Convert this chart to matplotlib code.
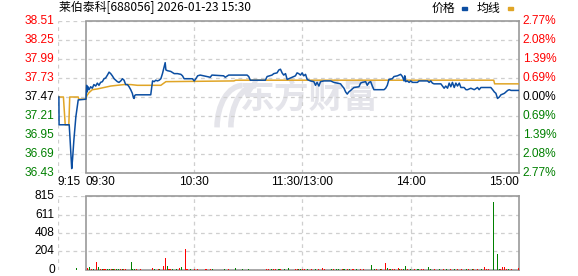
import matplotlib
matplotlib.use("Agg")
import matplotlib.pyplot as plt
from matplotlib.patches import Arc

# ---------------- data ----------------
title = "莱伯泰科[688056] 2026-01-23 15:30"
prev_close = 37.47

# minutes from 09:30 (lunch break removed); negative = call auction 9:15-9:30
price_t = [-15, -14.9, -9.3, -8.9, -8.3, -7.9, -7.4, -6.7, -5.6, -4.3, 0,
           0.4, 0.7, 1.1, 1.7, 2.6, 3.5, 4.4, 5.4, 6.3, 7.2, 8.1, 9.1, 10, 10.9,
           11.9, 12.8, 13.7, 14.6, 15.6, 16.5, 17.4, 18.3, 19.3, 20.2, 21.1, 22,
           23, 23.9, 24.8, 25.7, 26.3, 26.7, 27, 27.6, 35.9, 36.5, 36.9, 37.8,
           38.7, 39.6, 40.6, 41.5, 42.4, 43.3, 43.9, 44.3, 45.2, 47, 48.9, 50.7,
           52.6, 53.5, 54.4, 58.1, 59, 60, 60.9, 61.9, 63.3, 68.9, 69.8, 76.3,
           77.2, 79.1, 89.3, 90.2, 91.1, 99.4, 100.4, 103.1, 104.1, 105.9, 106.9,
           107.8, 108.7, 109.6, 110.6, 111.5, 112.4, 116.1, 117, 117.9, 118.9,
           119.8, 120.7, 121.7, 122.6, 124.4, 126.3, 127.2, 128.1, 129.1, 130,
           131.9, 135.6, 137.4, 139.3, 141.1, 142, 143, 143.9, 144.8, 145.7,
           146.7, 148.5, 151.3, 152.2, 153.1, 155, 155.9, 156.9, 157.8, 158.7,
           159.6, 165.2, 166.1, 167, 167.9, 169.8, 170.7, 172.6, 173.5, 174.4,
           175.4, 176.3, 176.7, 177.2, 178.1, 179.1, 180, 181, 183.7, 184.6,
           189.3, 190.2, 191.1, 192, 192.9, 196.7, 197.6, 198.5, 199.4, 200.4,
           201.3, 202.2, 203.1, 204.1, 205, 205.9, 206.9, 207.8, 209.6, 210.6,
           211.5, 213.3, 215.2, 217, 217.9, 218.9, 224.4, 225.4, 226.3, 227.2,
           228.1, 229.1, 230, 231.9, 232.8, 233.7, 234.6, 235.6, 240]
price_v = [37.47, 37.09, 37.09, 36.93, 36.65, 36.49, 36.63, 36.88, 37.20, 37.43, 37.44,
           37.63, 37.54, 37.61, 37.57, 37.61, 37.59, 37.64, 37.62, 37.66, 37.63, 37.67, 37.68, 37.72, 37.73,
           37.77, 37.81, 37.79, 37.76, 37.72, 37.70, 37.68, 37.67, 37.69, 37.72, 37.70, 37.64,
           37.64, 37.61, 37.57, 37.52, 37.46, 37.45, 37.49, 37.50, 37.50, 37.61, 37.69, 37.68,
           37.70, 37.69, 37.70, 37.72, 37.79, 37.88, 37.94, 37.84, 37.83, 37.82, 37.79, 37.79,
           37.78, 37.76, 37.72, 37.72, 37.72, 37.69, 37.72, 37.76, 37.77, 37.74, 37.77, 37.76,
           37.74, 37.77, 37.77, 37.75, 37.70, 37.70, 37.75, 37.77, 37.79, 37.80, 37.84,
           37.85, 37.80, 37.77, 37.79, 37.71, 37.72, 37.76, 37.80, 37.79, 37.77,
           37.80, 37.76, 37.78, 37.71, 37.69, 37.68, 37.63, 37.67, 37.62, 37.68,
           37.69, 37.69, 37.67, 37.66, 37.65, 37.62, 37.59, 37.54, 37.51, 37.54,
           37.56, 37.60, 37.61, 37.66, 37.67, 37.68, 37.63, 37.67, 37.68, 37.62,
           37.57, 37.57, 37.59, 37.63, 37.71, 37.72, 37.75, 37.76, 37.77, 37.78,
           37.75, 37.69, 37.76, 37.68, 37.69, 37.67, 37.69, 37.67, 37.67, 37.69,
           37.69, 37.67, 37.69, 37.66, 37.65, 37.65, 37.62, 37.59, 37.62, 37.59,
           37.66, 37.61, 37.67, 37.60, 37.66, 37.62, 37.66, 37.60, 37.60, 37.57,
           37.57, 37.59, 37.57, 37.60, 37.57, 37.60, 37.60, 37.57, 37.54, 37.52,
           37.45, 37.47, 37.50, 37.52, 37.54, 37.56, 37.57, 37.56, 37.56]

avg_t = [-15, -12.5, -11.5, -9.5, -9, -4.3, -4, 0, 0.5, 1.7, 3.5, 6.3, 10, 13.7,
         17.4, 21.1, 24.8, 28.5, 41.5, 44.3, 82, 83, 226, 226.5, 240]
avg_v = [37.47, 37.47, 37.09, 37.09, 37.47, 37.47, 37.44, 37.44, 37.49, 37.53, 37.57,
         37.58, 37.60, 37.62, 37.63, 37.64, 37.64, 37.63, 37.63, 37.68, 37.69, 37.70,
         37.70, 37.65, 37.65]

# larger volume bars
vol_t = [-5, 1, 2, 6, 7, 25, 37, 43, 44, 45, 52, 53, 55, 69, 77, 83, 87, 112,
         131, 158, 166, 167, 173, 177, 190, 221, 226, 228, 231, 232, 240]
vol_v = [25, 25, 33, 88, 33, 88, 22, 44, 130, 44, 22, 33, 231, 15, 15, 22, 15, 22,
         22, 55, 77, 25, 22, 44, 33, 33, 749, 173, 33, 33, 25]
vol_up = [0, 1, 0, 1, 0, 0, 1, 1, 1, 0, 1, 0, 1, 1, 0, 0, 0, 0,
          1, 0, 1, 0, 1, 0, 0, 1, 0, 0, 1, 1, 1]

# small volume bars (about 1 px tall)
vsm_t = [3, 4, 8, 9, 10, 11, 12, 13, 14, 15, 16, 17, 18, 19, 20, 21, 22, 26, 27,
         28, 30, 38, 40, 41, 46, 47, 48, 50, 56, 58, 60, 62, 66, 67, 70, 79, 90,
         100, 101, 103, 104, 105, 107, 108, 110, 116, 117, 118, 119, 120, 121,
         123, 125, 127, 129, 132, 136, 137, 139, 140, 142, 143, 145, 146, 148,
         150, 152, 154, 160, 161, 163, 164, 168, 169, 170, 171, 174, 175, 176,
         178, 180, 182, 184, 186, 187, 191, 193, 196, 198, 200, 202, 204, 206,
         208, 211, 212, 214, 215, 217, 219, 222, 223, 229, 230, 233, 234, 236]
vsm_v = [12, 10, 11, 10, 12, 10, 11, 10, 12, 11, 10, 12, 10, 11, 10, 12, 10, 11, 10,
         12, 10, 11, 10, 12, 11, 10, 12, 11, 10, 12, 11, 10, 12, 11, 10, 11, 12,
         12, 10, 11, 12, 10, 11, 12, 10, 12, 10, 11, 12, 10, 11,
         12, 10, 11, 12, 10, 11, 10, 12, 11, 10, 12, 11, 10, 12,
         11, 10, 12, 11, 10, 12, 11, 10, 12, 11, 10, 12, 11, 10,
         12, 11, 10, 12, 11, 10, 12, 11, 10, 12, 11, 10, 12, 11,
         10, 12, 11, 10, 12, 11, 10, 12, 11, 10, 12, 11, 10, 12]
vsm_up = [1, 0, 1, 0, 1, 1, 0, 0, 1, 0, 1, 0, 0, 1, 0, 1, 1, 0, 0,
          1, 1, 0, 1, 0, 1, 1, 0, 0, 1, 0, 1, 1, 1, 1, 0, 1, 0,
          1, 1, 0, 1, 1, 0, 1, 0, 1, 1, 0, 0, 1, 1,
          0, 1, 0, 1, 1, 0, 1, 0, 0, 1, 0, 1, 0, 1,
          0, 1, 1, 0, 1, 0, 1, 1, 0, 1, 1, 0, 1, 0,
          1, 0, 1, 0, 1, 1, 0, 1, 0, 1, 0, 1, 0, 1,
          1, 0, 1, 0, 1, 1, 0, 1, 1, 0, 1, 1, 0, 1]

price_ticks = [38.51, 38.25, 37.99, 37.73, 37.47, 37.21, 36.95, 36.69, 36.43]
pct_labels = ["2.77%", "2.08%", "1.39%", "0.69%", "0.00%", "0.69%", "1.39%", "2.08%", "2.77%"]
vol_ticks = [0, 204, 408, 611, 815]
time_ticks = [-15.5, 0, 60, 120, 180, 240]
time_labels = ["9:15", "09:30", "10:30", "11:30/13:00", "14:00", "15:00"]

# ---------------- style ----------------
plt.rcParams['font.family'] = ['Liberation Sans', 'Noto Sans CJK SC', 'DejaVu Sans']
BLUE = "#0b4ea2"
ORANGE = "#e0a526"
RED = "#ff0000"
GREEN = "#008000"
FRAME = "#999999"
GRID = "#cfcfcf"
WM = "#e4e4ea"
FS = 8.6

W, H = 578, 276
fig = plt.figure(figsize=(W / 100, H / 100), dpi=100)

def ax_rect(x0, x1, ytop, ybot):
    return [x0 / W, 1 - ybot / H, (x1 - x0) / W, (ybot - ytop) / H]

ax = fig.add_axes(ax_rect(58, 519, 21, 173))
axv = fig.add_axes(ax_rect(58, 519, 196, 270))

XMIN, XMAX = -15.5, 240

def frame(a):
    a.set_xlim(XMIN, XMAX)
    a.spines["left"].set_visible(False)
    for s in ("top", "bottom", "right"):
        a.spines[s].set_color(FRAME)
        a.spines[s].set_linewidth(1.2)
    a.spines["top"].set_bounds(0, XMAX)
    a.spines["bottom"].set_bounds(0, XMAX)
    a.axvline(0, color=FRAME, lw=1.2, zorder=3)
    for xv in (XMIN, 60, 120, 180):
        a.axvline(xv, color=GRID, lw=0.9, ls=(0, (3, 3)), zorder=1)
    a.tick_params(length=0)
    a.set_xticks([])

# ---- main price chart ----
frame(ax)
ylo, yhi = price_ticks[-1], price_ticks[0]
ax.set_ylim(ylo, yhi)
for yv in price_ticks:
    ax.axhline(yv, color=GRID, lw=0.9, ls=(0, (3, 3)), zorder=1)
ax.set_yticks([])

# watermark (logo strokes + text)
for cx, r in ((0.40, 0.11), (0.43, 0.11)):
    ax.add_patch(Arc((cx, 0.30), r * 1.0, 0.55, angle=0, theta1=90, theta2=180,
                     transform=ax.transAxes, color=WM, lw=4, zorder=0.5))
ax.text(0.545, 0.5, "东方财富", transform=ax.transAxes, fontsize=25,
        fontweight="bold", color=WM, ha="center", va="center",
        family=["Noto Sans CJK SC"], zorder=0.5)

ax.plot(avg_t, avg_v, color=ORANGE, lw=1.1, zorder=4)
ax.plot(price_t, price_v, color=BLUE, lw=1.1, zorder=5)

for yv, lab in zip(price_ticks, pct_labels):
    if yv > prev_close + 1e-6:
        c = RED
    elif yv < prev_close - 1e-6:
        c = GREEN
    else:
        c = "black"
    ax.text(-0.007, yv, f"{yv:.2f}", transform=ax.get_yaxis_transform(),
            ha="right", va="center", fontsize=FS, color=c)
    ax.text(1.008, yv, lab, transform=ax.get_yaxis_transform(),
            ha="left", va="center", fontsize=FS, color=c)

aligns = ["left", "left", "center", "center", "center", "right"]
for tv, lab, al in zip(time_ticks, time_labels, aligns):
    ax.text(tv, -0.06, lab, transform=ax.get_xaxis_transform(),
            ha=al, va="center", fontsize=FS, color="black")

# title and legend
fig.text(59 / W, 1 - 8 / H, title, ha="left", va="center", fontsize=FS,
         family=["Noto Sans CJK SC"], color="black")
fig.text(432 / W, 1 - 8 / H, "价格", ha="left", va="center", fontsize=FS,
         family=["Noto Sans CJK SC"], color="black")
fig.patches.append(plt.Rectangle((462 / W, 1 - 10 / H), 5 / W, 3 / H,
                                 transform=fig.transFigure, color=BLUE))
fig.text(477 / W, 1 - 8 / H, "均线", ha="left", va="center", fontsize=FS,
         family=["Noto Sans CJK SC"], color="black")
fig.patches.append(plt.Rectangle((508 / W, 1 - 10 / H), 5 / W, 3 / H,
                                 transform=fig.transFigure, color=ORANGE))

# ---- volume chart ----
frame(axv)
axv.set_ylim(0, vol_ticks[-1])
for yv in vol_ticks[1:]:
    axv.axhline(yv, color=GRID, lw=0.9, ls=(0, (3, 3)), zorder=1)
axv.set_yticks([])
axv.bar(vsm_t, vsm_v, width=0.6, color=[RED if u else GREEN for u in vsm_up],
        zorder=4, linewidth=0)
axv.bar(vol_t, vol_v, width=0.6, color=[RED if u else GREEN for u in vol_up],
        zorder=4, linewidth=0)
for yv in vol_ticks:
    axv.text(-0.007, yv, f"{yv}", transform=axv.get_yaxis_transform(),
             ha="right", va="center", fontsize=FS, color="black")

fig.savefig("out.png", dpi=100)
